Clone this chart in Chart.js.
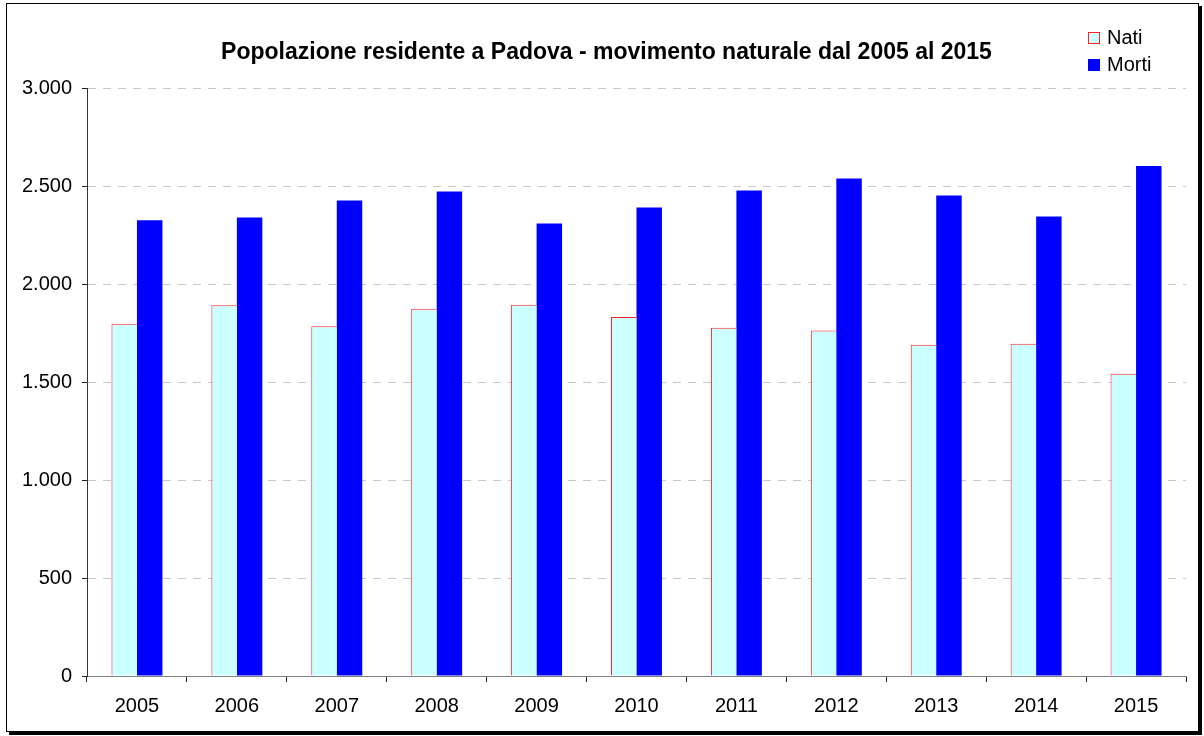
<!DOCTYPE html>
<html>
<head>
<meta charset="utf-8">
<script src="https://cdn.jsdelivr.net/npm/chart.js@4"></script>
<style>
    body { margin: 0; background: #fff; font-family: "Liberation Sans", Arial, sans-serif; }
    #cornice {
        position: absolute; left: 6px; top: 3px;
        width: 1191px; height: 727px;
        border: 1px solid #000;
        box-shadow: 3px 3px 0 #000;
        background: #fff;
    }
    #grafico { display: block; }
    #legenda { position: absolute; left: 1081px; top: 20px; font-size: 20px; color: #000; }
    .voce { display: flex; align-items: center; height: 27px; }
    .quadrato { width: 10px; height: 10px; margin-right: 7px; border: 1px solid; }
</style>
</head>
<body>
<div id="cornice">
    <canvas id="grafico" width="1191" height="727"></canvas>
    <div id="legenda"></div>
</div>
<script>
// dati
const anni = ["2005", "2006", "2007", "2008", "2009", "2010", "2011", "2012", "2013", "2014", "2015"];
const nati = [1799, 1893, 1786, 1876, 1896, 1833, 1779, 1764, 1692, 1697, 1544];
const morti = [2327, 2342, 2429, 2474, 2311, 2393, 2480, 2541, 2454, 2347, 2605];
const etichetteY = ["0", "500", "1.000", "1.500", "2.000", "2.500", "3.000"];

const titolo = "Popolazione residente a Padova - movimento naturale dal 2005 al 2015";

const serie = [
    { label: "Nati", data: nati, backgroundColor: "#ccffff", borderColor: "#ff2020",
      borderWidth: { left: 1, top: 1, right: 0, bottom: 0 } },
    { label: "Morti", data: morti, backgroundColor: "#0000ff", borderColor: "#0000ff", borderWidth: 0 }
];

// legenda in html
let htmlLegenda = "";
serie.forEach(s => {
    htmlLegenda += `<div class="voce"><span class="quadrato" style="background:${s.backgroundColor};border-color:${s.borderColor}"></span>${s.label}</div>`;
});
document.getElementById("legenda").innerHTML = htmlLegenda;

// sposta un po' il titolo verso destra come nell'originale
const spostaTitolo = {
    id: "spostaTitolo",
    afterLayout(chart) {
        if (chart.titleBlock) chart.titleBlock.left += 20;
    }
};

new Chart(document.getElementById("grafico"), {
    type: "bar",
    data: {
        labels: anni,
        datasets: serie.map(s => ({
            label: s.label,
            data: s.data,
            backgroundColor: s.backgroundColor,
            borderColor: s.borderColor,
            borderWidth: s.borderWidth,
            categoryPercentage: 0.51,
            barPercentage: 1.0
        }))
    },
    plugins: [spostaTitolo],
    options: {
        responsive: false,
        animation: false,
        layout: { padding: { left: 0, right: 12, top: 0, bottom: 0 } },
        plugins: {
            legend: { display: false },
            tooltip: { enabled: false },
            title: {
                display: true,
                text: titolo,
                color: "#000",
                font: { family: "'Liberation Sans', Arial, sans-serif", size: 23, weight: "bold" },
                padding: { top: 35, bottom: 22 }
            }
        },
        scales: {
            x: {
                afterFit: scala => { scala.height = 55; },
                grid: {
                    offset: true,
                    drawOnChartArea: false,
                    drawTicks: true,
                    tickLength: 6,
                    tickColor: "#222"
                },
                border: { color: "#808080", width: 1 },
                ticks: {
                    color: "#000",
                    padding: 12,
                    font: { family: "'Liberation Sans', Arial, sans-serif", size: 20 }
                }
            },
            y: {
                min: 0,
                max: 3000,
                afterFit: scala => { scala.width = 80; },
                grid: {
                    color: ctx => (ctx.tick && ctx.tick.value === 0) ? "rgba(0,0,0,0)" : "#c8c8c8",
                    tickColor: "#222",
                    tickLength: 5,
                    tickBorderDash: []
                },
                border: { color: "#333", width: 1, dash: [8, 7] },
                ticks: {
                    stepSize: 500,
                    color: "#000",
                    padding: 10,
                    font: { family: "'Liberation Sans', Arial, sans-serif", size: 20 },
                    callback: (valore, indice) => etichetteY[indice]
                }
            }
        }
    }
});
</script>
</body>
</html>
